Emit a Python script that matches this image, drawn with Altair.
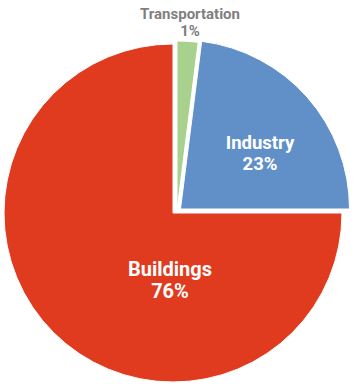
import math
import altair as alt
import pandas as pd

# ---- data ----
categories = ["Transportation", "Industry", "Buildings"]
shares = [2, 23, 75]                  # slice sizes
pct_labels = ["1%", "23%", "76%"]     # labels as printed
colors = ["#A9D18E", "#6190C9", "#E03B1F"]

df = pd.DataFrame({
    "category": categories,
    "share": shares,
    "pct": pct_labels,
    "idx": list(range(len(categories))),
})

# ---- style (exploded centers and label placement) ----
centers = {"Transportation": (177, 210), "Industry": (180.5, 209), "Buildings": (173, 213)}
label_pos = {
    "Transportation": (190, 14, 31, 15, "#7F7F7F"),
    "Industry": (260, 143, 164, 18.5, "white"),
    "Buildings": (170, 270, 292, 20, "white"),
}
FONT = "Roboto, Liberation Sans, sans-serif"
R = 169

base = alt.Chart(df).transform_window(
    end="sum(share)", sort=[alt.SortField("idx")]
).transform_calculate(start="datum.end - datum.share")

theta_scale = alt.Scale(domain=[0, sum(shares)], range=[0, 2 * math.pi])

layers = []
for cat, col in zip(categories, colors):
    cx, cy = centers[cat]
    layers.append(
        base.transform_filter(alt.datum.category == cat)
        .mark_arc(radius=R, stroke="white", strokeWidth=1, color=col)
        .encode(
            theta=alt.Theta("start:Q", scale=theta_scale),
            theta2="end:Q",
            x=alt.value(cx),
            y=alt.value(cy),
        )
    )

for cat in categories:
    lx, ly1, ly2, fs, fc = label_pos[cat]
    t = base.transform_filter(alt.datum.category == cat)
    layers.append(
        t.mark_text(font=FONT, fontSize=fs, fontWeight="bold", color=fc, baseline="middle", align="center")
        .encode(text="category:N", x=alt.value(lx), y=alt.value(ly1))
    )
    layers.append(
        t.mark_text(font=FONT, fontSize=fs, fontWeight="bold", color=fc, baseline="middle", align="center")
        .encode(text="pct:N", x=alt.value(lx), y=alt.value(ly2))
    )

chart = alt.layer(*layers).properties(
    width=355, height=389, autosize=alt.AutoSizeParams(type="none"), padding=0,
    background="white",
).configure_view(stroke=None)

chart.save("out.html", embed_options={"renderer": "svg", "actions": False})
